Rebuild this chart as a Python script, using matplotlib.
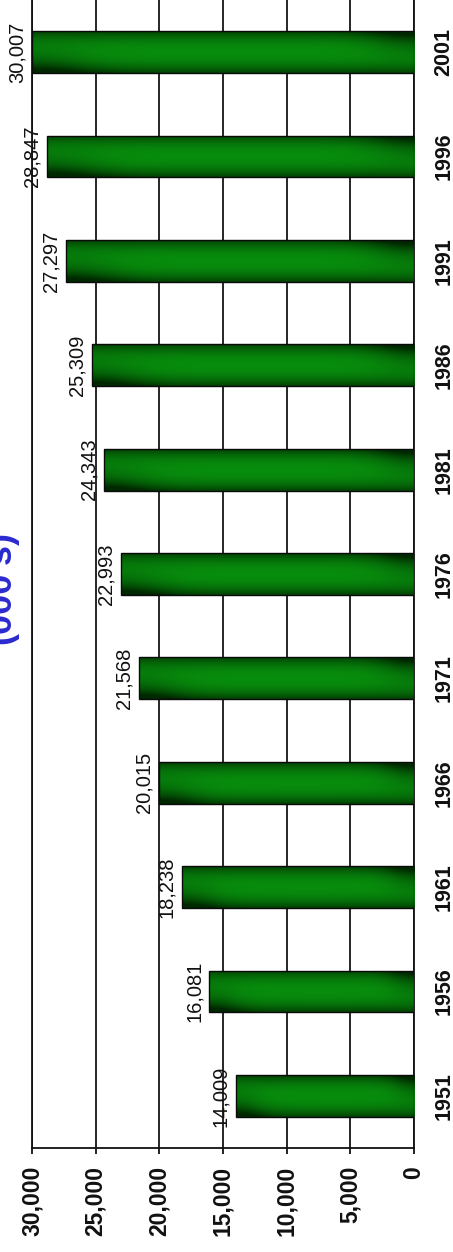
import numpy as np
import matplotlib
matplotlib.use("Agg")
import matplotlib.pyplot as plt
from matplotlib.patches import Rectangle

# ---- data ----
years = ["1951", "1956", "1961", "1966", "1971", "1976", "1981", "1986", "1991", "1996", "2001"]
values = [14009, 16081, 18238, 20015, 21568, 22993, 24343, 25309, 27297, 28847, 30007]
value_ticks = [0, 5000, 10000, 15000, 20000, 25000, 30000]
value_tick_labels = ["0", "5,000", "10,000", "15,000", "20,000", "25,000", "30,000"]
title = "(000's)"

W, H = 453, 1252
fig = plt.figure(figsize=(W / 100, H / 100), dpi=100)
fig.patch.set_facecolor("white")

left, right = 32, 414
top, bottom = 0, 1148
ax = fig.add_axes([left / W, (H - bottom) / H, (right - left) / W, (bottom - top) / H])
ax.set_facecolor("white")

bar_h = 0.4
bright = np.array([0.03, 0.55, 0.05])
dark = np.array([0.0, 0.16, 0.0])

n_t, n_s = 60, 200
t = np.linspace(0, 1, n_t)          # across thickness (0 = lower pixel edge)
s = np.linspace(0, 1, n_s)          # along length (0 = value 0)
T, S = np.meshgrid(t, s, indexing="ij")
edge = np.abs(T - 0.5) * 2
f = 0.75 * edge ** 2.2
f += 0.6 * np.exp(-(S / 0.12) ** 2) * T ** 1.5
f += 0.6 * np.exp(-((1 - S) / 0.15) ** 2) * (1 - T) ** 1.5
f = np.clip(f, 0, 1)
grad = bright[None, None, :] * (1 - f[..., None]) + dark[None, None, :] * f[..., None]

for i, v in enumerate(values):
    rect = Rectangle((0, i - bar_h / 2), v, bar_h, facecolor="none",
                     edgecolor="#0a0a0a", linewidth=1.0, zorder=4)
    ax.add_patch(rect)
    im = ax.imshow(grad, extent=[0, v, i - bar_h / 2, i + bar_h / 2],
                   origin="lower", aspect="auto", zorder=3, interpolation="bilinear")
    im.set_clip_path(rect)
    ax.annotate(f"{v:,}", xy=(v, i), xytext=(-4, 0), textcoords="offset points",
                rotation=90, ha="right", va="center", fontsize=14.5,
                family="Liberation Sans", color="#111111")

ax.set_xlim(30000, 0)
ax.set_ylim(-0.5, len(years) - 0.5)

ax.set_xticks(value_ticks)
ax.set_xticklabels(value_tick_labels, rotation=90, fontsize=16.5, fontweight="bold",
                   family="Liberation Sans")
ax.tick_params(axis="x", direction="out", length=4, width=1.3, pad=9, colors="#111111")

ax.yaxis.tick_right()
ax.set_yticks(range(len(years)))
ax.set_yticklabels(years, rotation=90, va="center", fontsize=15.5, fontweight="bold",
                   family="Liberation Sans")
ax.tick_params(axis="y", length=0, pad=14, colors="#111111")

ax.grid(axis="x", color="#151515", linewidth=1.3, zorder=1)
ax.set_axisbelow(True)
for side in ["left", "right", "bottom"]:
    ax.spines[side].set_color("#111111")
    ax.spines[side].set_linewidth(1.3)
ax.spines["top"].set_visible(False)

fig.text(18 / W, 1 - 588 / H, title, rotation=90, ha="right", va="center",
         fontsize=26, fontweight="bold", color="#2a2ad0", family="Liberation Sans")

fig.savefig("out.png", dpi=100, facecolor="white")
